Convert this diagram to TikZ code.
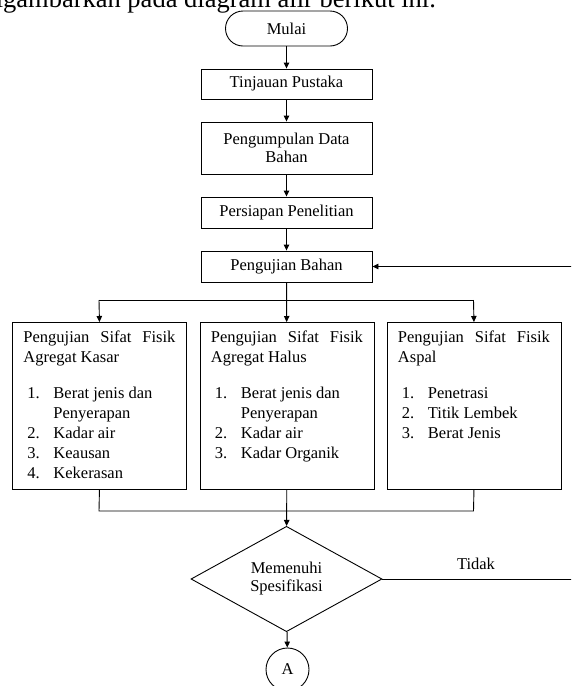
\documentclass[tikz,border=0pt]{standalone}
\usepackage{fontspec}
\setmainfont{Liberation Serif}
\usepackage{xcolor}
\usepackage{tikz}
\usetikzlibrary{arrows.meta,positioning,shapes.geometric}
\definecolor{ink}{HTML}{000000}
\newcommand{\fsz}{\fontsize{16.5}{18}\selectfont}
\newcommand{\numitem}[2]{\makebox[30pt][l]{\hspace{4pt}#1.}#2}
\newcommand{\testtext}[2]{\parbox[t][151pt][t]{152pt}{\fontsize{16.5}{20}\selectfont #1\par\vspace{16pt}#2}}
\tikzset{
  line/.style={draw=ink, line width=0.9pt},
  arr/.style={line, -{Triangle[length=6pt,width=5.5pt]}},
  term/.style={line, rectangle, rounded corners=17.5pt, minimum width=122pt, minimum height=35pt, inner sep=0pt, font=\fsz},
  proc/.style={line, rectangle, minimum width=171pt, inner sep=0pt, align=center, font=\fsz},
  test/.style={line, rectangle, inner xsep=11pt, inner ysep=8pt, anchor=north west},
  cond/.style={line, diamond, minimum width=191pt, minimum height=92pt, inner sep=0pt, align=center, font=\fsz},
  conn/.style={line, circle, minimum size=43pt, inner sep=0pt, font=\fsz},
  lab/.style={text=ink, font=\fsz, inner sep=0pt},
}

\begin{document}
\begin{tikzpicture}[x=1pt,y=-1pt]
\useasboundingbox (0,0) rectangle (571,686);
\clip (0,0) rectangle (571,686);
\node[lab, anchor=base east, font=\fontsize{26.5}{30}\selectfont] (intro) at (436,7.5) {digambarkan pada diagram alir berikut ini.};

\node[term] (mulai) at (286.5,28.5) {Mulai};
\node[proc, minimum height=30pt] (tinjau) at (286.5,84) {Tinjauan Pustaka};
\node[proc, minimum height=52pt] (kumpul) at (286.5,148) {Pengumpulan Data\\Bahan};
\node[proc, minimum height=31pt] (siap) at (286.5,212.5) {Persiapan Penelitian};
\node[proc, minimum height=31pt] (uji) at (286.5,266.5) {Pengujian Bahan};

\node[test] (kasar) at (12,322) {\testtext{Pengujian Sifat Fisik\linebreak Agregat Kasar}{%
  \numitem{1}{Berat jenis dan}\\\hspace*{30pt}Penyerapan\\\numitem{2}{Kadar air}\\\numitem{3}{Keausan}\\\numitem{4}{Kekerasan}}};
\node[test] (halus) at (199.5,322) {\testtext{Pengujian Sifat Fisik\linebreak Agregat Halus}{%
  \numitem{1}{Berat jenis dan}\\\hspace*{30pt}Penyerapan\\\numitem{2}{Kadar air}\\\numitem{3}{Kadar Organik}}};
\node[test] (aspal) at (386.5,322) {\testtext{Pengujian Sifat Fisik\linebreak Aspal}{%
  \numitem{1}{Penetrasi}\\\numitem{2}{Titik Lembek}\\\numitem{3}{Berat Jenis}}};

\node[cond] (cek) at (286.5,579) {Memenuhi\\Spesifikasi};
\node[conn] (a) at (287.5,669.5) {A};
\node[lab, anchor=base] (tidak) at (476,569) {Tidak};

\coordinate (cabL) at (99,300);
\coordinate (cabR) at (473.5,300);
\coordinate (gabL) at (99,511);
\coordinate (gabR) at (473.5,511);
\coordinate (balik1) at (590,579);
\coordinate (balik2) at (590,266.5);

\draw[arr] (mulai) -- (tinjau);
\draw[arr] (tinjau) -- (kumpul);
\draw[arr] (kumpul) -- (siap);
\draw[arr] (siap) -- (uji);
\draw[arr] (uji) -- (halus);
\draw[line] (cabL) -- (cabR);
\draw[arr] (cabL) -- (kasar.north);
\draw[arr] (cabR) -- (aspal.north);
\draw[line] (kasar.south) -- (gabL) -- (gabR) -- (aspal.south);
\draw[arr] (halus) -- (cek);
\draw[arr] (cek) -- (a);
\draw[arr] (cek.east) -- (balik1) -- (balik2) -- (uji.east);
\end{tikzpicture}
\end{document}
